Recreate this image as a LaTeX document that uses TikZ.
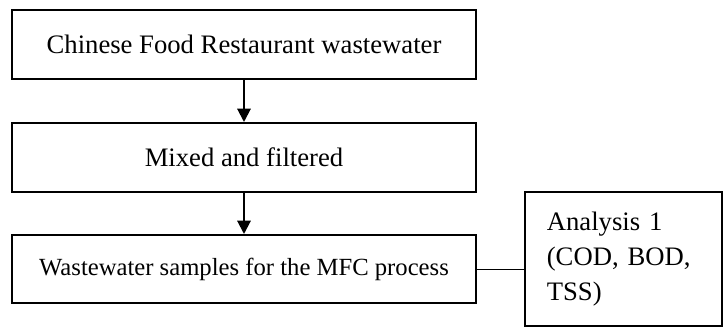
\documentclass[tikz,border=0pt]{standalone}
\usepackage{fontspec}
\setmainfont{Liberation Serif}
\usetikzlibrary{arrows.meta}
\begin{document}
\begin{tikzpicture}[x=0.75pt, y=-0.75pt,
    box/.style={draw, line width=1.5pt, minimum width=348pt, minimum height=51.75pt, inner sep=0pt},
    flow/.style={-{Triangle[width=10pt,length=10pt]}, line width=1.5pt}]
    \useasboundingbox (0,0) rectangle (728,329);
    % Define the nodes
    \node[box, font=\fontsize{20}{24}\selectfont] (source) at (244, 44.5) {Chinese Food Restaurant wastewater};
    \node[box, font=\fontsize{20}{24}\selectfont] (mixed) at (244, 157.5) {Mixed and filtered};
    \node[box, minimum height=51pt, font=\fontsize{18.5}{22}\selectfont] (samples) at (244, 269) {Wastewater samples for the MFC process};
    \node[draw, line width=1.5pt, minimum width=147.75pt, minimum height=100.5pt, inner xsep=16pt,
          text width=115pt, align=left, font=\fontsize{20}{26}\selectfont] (analysis) at (623.5, 259)
          {Analysis 1\\(COD, BOD,\\TSS)};
    
    % Draw the edges
    \draw[flow] (source) -- (mixed);
    \draw[flow] (mixed) -- (samples);
    \draw[line width=0.75pt] (samples.east) -- (samples.east -| analysis.west);
\end{tikzpicture}
\end{document}
